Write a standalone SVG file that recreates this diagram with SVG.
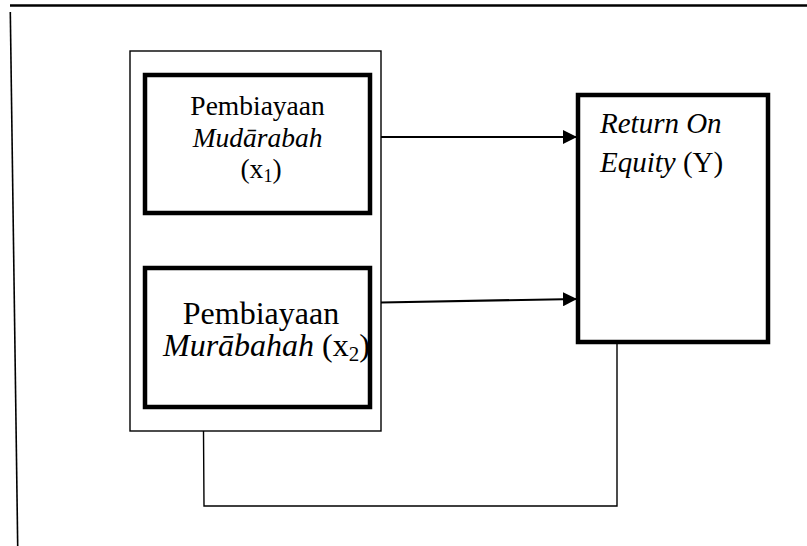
<svg xmlns="http://www.w3.org/2000/svg" width="807" height="546" viewBox="0 0 807 546">
<style>
  .t { font-family: "Liberation Serif", "Times New Roman", serif; fill: #000; }
  .i { font-style: italic; }
  .thin { fill: none; stroke: #000; stroke-width: 1.4; }
  .thick { fill: #fff; stroke: #000; stroke-width: 4.5; }
  .conn { fill: none; stroke: #000; stroke-width: 2.2; }
</style>
<defs>
  <marker id="arr" markerWidth="14" markerHeight="14" refX="14" refY="7" orient="auto" markerUnits="userSpaceOnUse">
    <path d="M0,0 L14,7 L0,14 Z" fill="#000"/>
  </marker>
</defs>
<rect width="807" height="546" fill="#fff"/>
<g id="frame">
  <line x1="10" y1="5.5" x2="807" y2="5.5" stroke="#000" stroke-width="2.4"/>
  <line x1="10.3" y1="12" x2="17.7" y2="546" stroke="#000" stroke-width="1.6"/>
</g>
<g id="group-x">
  <rect x="130" y="51" width="251" height="380" class="thin"/>
</g>
<g id="node-x1">
  <rect x="145" y="75" width="225" height="138" class="thick"/>
  <text class="t" font-size="27.5" text-anchor="middle">
    <tspan x="261" y="115">Pembiayaan</tspan>
    <tspan x="261" y="147" class="i">Mudārabah</tspan>
    <tspan x="261" y="178">(x<tspan font-size="18" dy="4">1</tspan><tspan dy="-4">)</tspan></tspan>
  </text>
</g>
<g id="node-x2">
  <rect x="145" y="268" width="225" height="139" class="thick"/>
  <text class="t" font-size="32" text-anchor="middle">
    <tspan x="261" y="324">Pembiayaan</tspan>
  </text>
  <text class="t" font-size="32" x="163" y="356"><tspan class="i">Murābahah</tspan> (x<tspan font-size="21" dy="5">2</tspan><tspan dy="-5">)</tspan></text>
</g>
<g id="node-y">
  <rect x="578" y="95" width="190" height="247" class="thick"/>
  <text class="t" font-size="29">
    <tspan x="600" y="133" class="i">Return On</tspan>
    <tspan x="600" y="172"><tspan class="i">Equity</tspan> (Y)</tspan>
  </text>
</g>
<g id="connectors">
  <line x1="381" y1="137" x2="577" y2="137" class="conn" marker-end="url(#arr)"/>
  <line x1="381" y1="302.5" x2="577" y2="299" class="conn" marker-end="url(#arr)"/>
  <polyline points="203.5,431 204,506 617,506 617,342" class="thin" stroke-width="1.6"/>
</g>
</svg>
